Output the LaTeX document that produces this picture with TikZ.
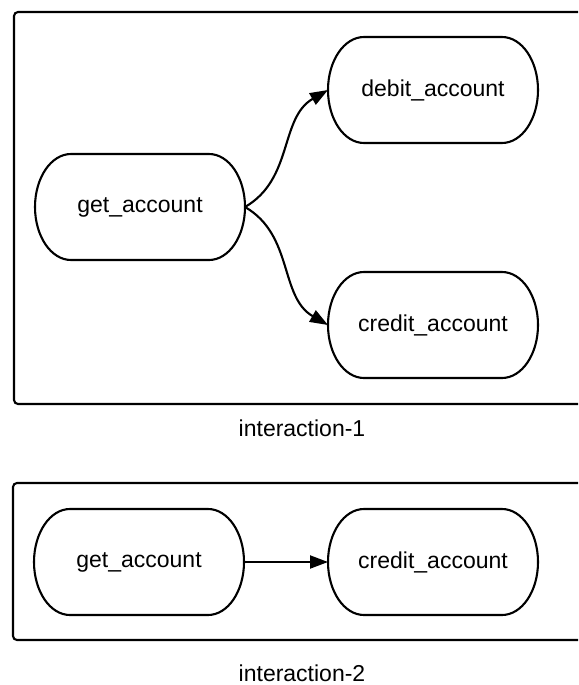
\documentclass[tikz,border=0pt]{standalone}
\usepackage{fontspec}
\setmainfont{Liberation Sans}
\usetikzlibrary{arrows.meta}

\begin{document}
\begin{tikzpicture}[x=1pt, y=1pt,
    line width=2.1pt,
    every node/.style={font=\fontsize{23}{27}\selectfont},
    task/.style={minimum width=210pt, minimum height=106pt, inner sep=0pt, outer sep=0pt},
    >={Triangle[length=18pt,width=13pt]}  % filled heads
]
    \clip (0,0) rectangle (578,-685);

    % groups
    \draw[rounded corners=4pt] (14,-12) rectangle (610,-404);
    \draw[rounded corners=4pt] (13,-483) rectangle (610,-640);

    \node[task] (get1) at (140,-207) {get\_account};
    \node[task] (debit1) at (433,-90) {debit\_account};
    \node[task] (credit1) at (433,-325) {credit\_account};
    \node[task] (get2) at (139,-562) {get\_account};
    \node[task] (credit2) at (433,-562) {credit\_account};

    \node (lab1) at (302,-428) {interaction-1};
    \node (lab2) at (302,-673) {interaction-2};

    \foreach \n in {get1,debit1,credit1,get2,credit2}
        \draw ([xshift=36pt]\n.north west) -- ([xshift=-36pt]\n.north east)
            arc[start angle=90, end angle=-90, x radius=36pt, y radius=53pt]
            -- ([xshift=36pt]\n.south west)
            arc[start angle=270, end angle=90, x radius=36pt, y radius=53pt] -- cycle;

    \draw[->] (get1.east) to[out=30, in=210] (debit1.west);
    \draw[->] (get1.east) to[out=-30, in=150] (credit1.west);
    \draw[->] (get2.east) -- (credit2.west);
\end{tikzpicture}
\end{document}
